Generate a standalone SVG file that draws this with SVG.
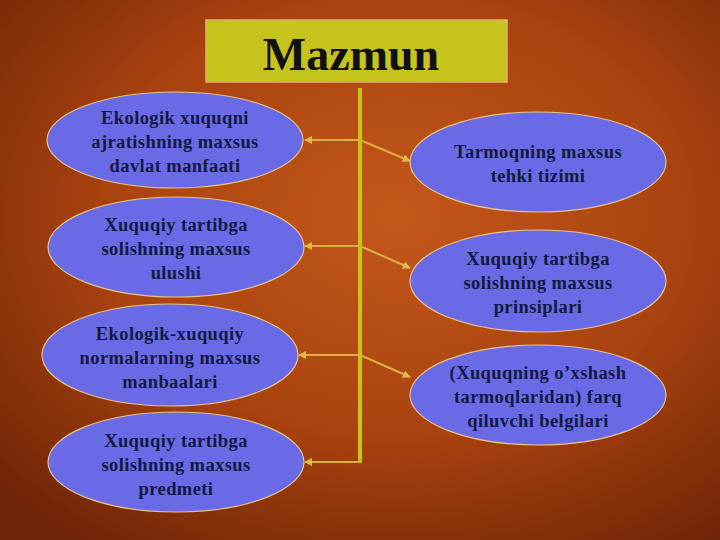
<svg xmlns="http://www.w3.org/2000/svg" width="720" height="540" viewBox="0 0 720 540">
<defs>
<radialGradient id="bg" cx="0.55" cy="0.4" r="0.75">
<stop offset="0" stop-color="#c4581a"/>
<stop offset="0.55" stop-color="#a8420f"/>
<stop offset="1" stop-color="#6e2406"/>
</radialGradient>
<marker id="ah" viewBox="0 0 10 10" refX="9" refY="5" markerWidth="4" markerHeight="4" orient="auto-start-reverse">
<path d="M0,0 L10,5 L0,10 z" fill="#e0b848"/>
</marker>
<style>
.node ellipse{fill:#6b6ae6;stroke:#e6c488;stroke-width:1.2}
.node text{font-family:"Liberation Serif","Times New Roman",serif;font-weight:bold;font-size:18.5px;fill:#121a40;text-anchor:middle;letter-spacing:0.4px}
.conn line{stroke:#d8b838;stroke-width:2.5}
.conn .arr{stroke:#dcb040;stroke-width:2;marker-end:url(#ah)}
</style>
</defs>
<rect width="720" height="540" fill="url(#bg)"/>
<g id="title">
<rect x="206" y="20" width="301" height="62" fill="#c6c41c" stroke="#e2b070" stroke-width="1.5"/>
<text x="351" y="70" font-family="'Liberation Serif','Times New Roman',serif" font-weight="bold" font-size="46" fill="#111" text-anchor="middle">Mazmun</text>
</g>
<g class="conn" id="connectors">
<line x1="360" y1="88" x2="360" y2="463" stroke="#c8c810" style="stroke:#c6c60e;stroke-width:4"/>
<line class="arr" x1="360" y1="140" x2="305" y2="140"/>
<line class="arr" x1="360" y1="140" x2="410" y2="161"/>
<line class="arr" x1="360" y1="246" x2="305" y2="246"/>
<line class="arr" x1="360" y1="246" x2="410" y2="268"/>
<line class="arr" x1="360" y1="355" x2="299" y2="355"/>
<line class="arr" x1="360" y1="355" x2="410" y2="377"/>
<line class="arr" x1="360" y1="462" x2="305" y2="462"/>
</g>
<g class="node" id="n1">
<ellipse cx="175" cy="140" rx="128" ry="48"/>
<text x="175" y="124">Ekologik xuquqni</text>
<text x="175" y="148">ajratishning maxsus</text>
<text x="175" y="172">davlat manfaati</text>
</g>
<g class="node" id="n2">
<ellipse cx="176" cy="247" rx="128" ry="50"/>
<text x="176" y="231">Xuquqiy tartibga</text>
<text x="176" y="255">solishning maxsus</text>
<text x="176" y="279">ulushi</text>
</g>
<g class="node" id="n3">
<ellipse cx="170" cy="355" rx="128" ry="51"/>
<text x="170" y="340">Ekologik-xuquqiy</text>
<text x="170" y="364">normalarning maxsus</text>
<text x="170" y="388">manbaalari</text>
</g>
<g class="node" id="n4">
<ellipse cx="176" cy="462" rx="128" ry="50"/>
<text x="176" y="447">Xuquqiy tartibga</text>
<text x="176" y="471">solishning maxsus</text>
<text x="176" y="495">predmeti</text>
</g>
<g class="node" id="n5">
<ellipse cx="538" cy="162" rx="128" ry="50"/>
<text x="538" y="158">Tarmoqning maxsus</text>
<text x="538" y="182">tehki tizimi</text>
</g>
<g class="node" id="n6">
<ellipse cx="538" cy="281" rx="128" ry="51"/>
<text x="538" y="265">Xuquqiy tartibga</text>
<text x="538" y="289">solishning maxsus</text>
<text x="538" y="313">prinsiplari</text>
</g>
<g class="node" id="n7">
<ellipse cx="538" cy="395" rx="128" ry="50"/>
<text x="538" y="379">(Xuquqning o’xshash</text>
<text x="538" y="403">tarmoqlaridan) farq</text>
<text x="538" y="427">qiluvchi belgilari</text>
</g>
</svg>
